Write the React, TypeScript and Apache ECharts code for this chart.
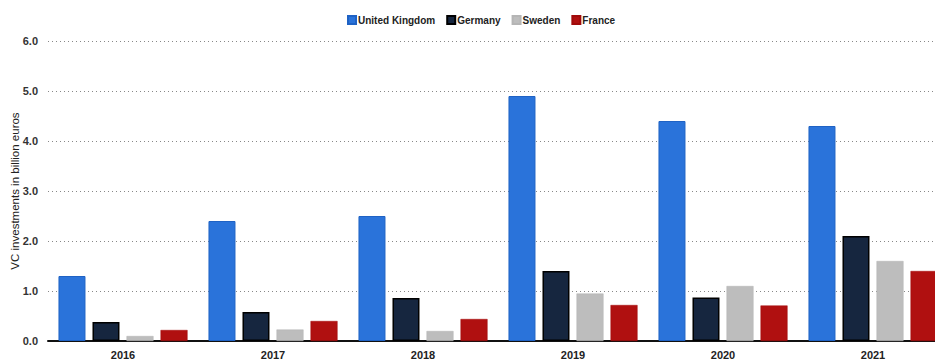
import React, { useEffect, useRef } from "react";
import * as echarts from "echarts";

const years = ["2016", "2017", "2018", "2019", "2020", "2021"];
const unitedKingdom = [1.3, 2.4, 2.5, 4.9, 4.4, 4.3];
const germany = [0.38, 0.58, 0.86, 1.4, 0.87, 2.1];
const sweden = [0.1, 0.23, 0.2, 0.95, 1.1, 1.6];
const france = [0.22, 0.4, 0.44, 0.72, 0.71, 1.4];

const FONT = "'Liberation Sans', Arial, sans-serif";

export default function App() {
  const ref = useRef<HTMLDivElement>(null);
  useEffect(() => {
    if (!ref.current) return;
    const chart = echarts.init(ref.current, undefined, { renderer: "svg" });
    const mk = (name: string, data: number[], color: string, border: string, bw: number) => ({
      name,
      type: "bar",
      data,
      barWidth: 27,
      barGap: "26%",
      itemStyle: { color, borderColor: border, borderWidth: bw },
    });
    chart.setOption({
      animation: false,
      textStyle: { fontFamily: FONT },
      legend: {
        top: 10,
        left: 342,
        itemWidth: 8,
        itemHeight: 8,
        itemGap: 11,
        icon: "rect",
        textStyle: {
          fontFamily: FONT,
          fontSize: 10,
          fontWeight: "bold",
          color: "#222",
          padding: [0, 0, 0, -3],
        },
        data: ["United Kingdom", "Germany", "Sweden", "France"],
      },
      grid: {
        left: 48,
        top: 41,
        width: 900,
        height: 300,
        containLabel: false,
        outerBoundsMode: "none",
      },
      xAxis: {
        type: "category",
        data: years,
        axisLine: { show: true, lineStyle: { color: "#111", width: 2 } },
        axisTick: { show: false },
        axisLabel: { fontFamily: FONT, fontSize: 11, fontWeight: "bold", color: "#222", margin: 8 },
      },
      yAxis: {
        type: "value",
        min: 0,
        max: 6,
        interval: 1,
        name: "VC investments in billion euros",
        nameLocation: "middle",
        nameGap: 27,
        nameMoveOverlap: false,
        nameTextStyle: { fontFamily: FONT, fontSize: 11.5, color: "#222" },
        axisLine: { show: false },
        axisTick: { show: false },
        axisLabel: {
          fontFamily: FONT,
          fontSize: 11,
          fontWeight: "bold",
          color: "#333",
          margin: 10,
          formatter: (v: number) => v.toFixed(1),
        },
        splitLine: { show: true, lineStyle: { color: "#888", type: [1, 3], width: 1 } },
      },
      series: [
        mk("United Kingdom", unitedKingdom, "#2a73da", "#1f62c4", 1),
        mk("Germany", germany, "#16263f", "#000000", 1.5),
        mk("Sweden", sweden, "#bdbdbd", "#b5b5b5", 0.5),
        mk("France", france, "#b01010", "#a00a0a", 0.5),
      ],
    });
    return () => chart.dispose();
  }, []);
  return (
    <div
      ref={ref}
      style={{ position: "fixed", left: 0, top: 0, width: 935, height: 363, overflow: "hidden", background: "#fff" }}
    />
  );
}
